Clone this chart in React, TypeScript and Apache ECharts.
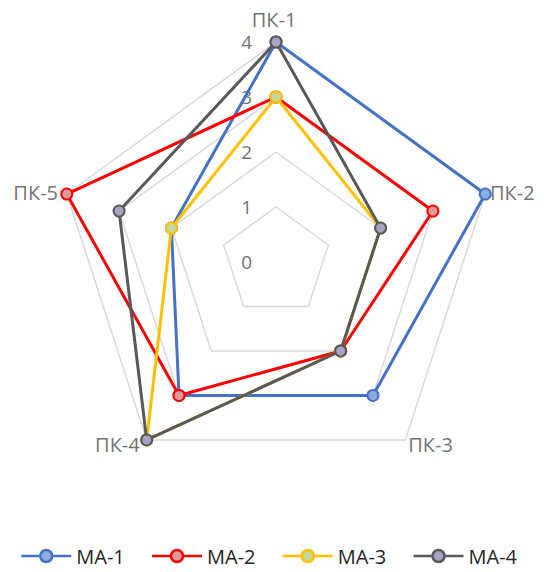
import React, { useEffect, useRef } from "react";
import * as echarts from "echarts";

const indicatorNames = ["ПК-1", "ПК-2", "ПК-3", "ПК-4", "ПК-5"];
const seriesNames = ["MA-1", "MA-2", "MA-3", "MA-4"];
const ma1 = [4, 4, 3, 3, 2];
const ma2 = [3, 3, 2, 3, 4];
const ma3 = [3, 2, 2, 4, 2];
const ma4 = [4, 2, 2, 4, 3];
const seriesValues = [ma1, ma2, ma3, ma4];
const axisMin = 0;
const axisMax = 4;

const lineColors = ["#4472C4", "#FF0000", "#FFC000", "#595959"];
const fillColors = ["#8FAADC", "#E09C9C", "#C3D69B", "#A9A2C6"];

// ECharts lays out radar indicators counter-clockwise; reorder so they run clockwise.
const displayOrder = [0, 4, 3, 2, 1];

const legendIcon =
  "path://M0,6 L19,6 M31,6 L50,6 M31,6 A6,6 0 1 1 19,6 A6,6 0 1 1 31,6 Z";

export default function App() {
  const ref = useRef<HTMLDivElement>(null);
  useEffect(() => {
    if (!ref.current) return;
    const chart = echarts.init(ref.current, undefined, { renderer: "svg" });
    const font = "'Open Sans', Lato, sans-serif";
    chart.setOption({
      animation: false,
      backgroundColor: "#ffffff",
      textStyle: { fontFamily: font },
      legend: {
        bottom: 1,
        left: 15,
        itemWidth: 50,
        itemHeight: 12,
        itemGap: 26,
        icon: legendIcon,
        textStyle: { fontSize: 20, color: "#262626", fontFamily: font },
        itemStyle: { borderWidth: 2.5 },
        data: seriesNames.map((n, i) => ({
          name: n,
          itemStyle: { color: fillColors[i], borderColor: lineColors[i], borderWidth: 2.5 },
        })),
      },
      radar: {
        center: [276, 262],
        radius: 220,
        startAngle: 90,
        shape: "polygon",
        splitNumber: 4,
        nameGap: 5,
        axisName: {
          color: "#737373",
          fontSize: 20,
          fontFamily: font,
          padding: [6, 4, 8, 0],
        },
        splitLine: { lineStyle: { color: "#D9D9D9", width: 1.5 } },
        splitArea: { show: false },
        axisLine: { show: false },
        axisTick: { show: false },
        axisLabel: { show: false },
        indicator: displayOrder.map((idx, k) => ({
          name: indicatorNames[idx],
          min: axisMin,
          max: axisMax,
          ...(k === 0
            ? {
                axisLabel: {
                  show: true,
                  color: "#737373",
                  fontSize: 19,
                  fontFamily: font,
                  margin: 24,
                },
              }
            : {}),
        })),
      },
      series: seriesNames.map((n, i) => ({
        type: "radar",
        name: n,
        z: 2 + i,
        symbol: "circle",
        symbolSize: 11,
        lineStyle: { color: lineColors[i], width: 3 },
        itemStyle: { color: fillColors[i], borderColor: lineColors[i], borderWidth: 2 },
        data: [{ name: n, value: displayOrder.map((idx) => seriesValues[i][idx]) }],
      })),
    });
    return () => chart.dispose();
  }, []);
  return (
    <div
      ref={ref}
      style={{ position: "fixed", left: 0, top: 0, width: 544, height: 572 }}
    />
  );
}
